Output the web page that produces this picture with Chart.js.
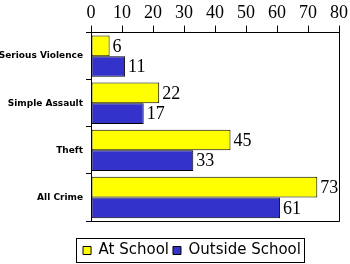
<!DOCTYPE html>
<html>
<head>
<meta charset="utf-8">
<script src="https://cdn.jsdelivr.net/npm/chart.js@4/dist/chart.umd.min.js"></script>
<style>
html,body{margin:0;padding:0;background:#fff;}
#wrap{width:350px;height:264px;position:relative;}
</style>
</head>
<body>
<div id="wrap"><canvas id="c" width="350" height="264"></canvas></div>
<script>
const categories = ["Serious Violence", "Simple Assault", "Theft", "All Crime"];
const seriesNames = ["At School", "Outside School"];
const atSchool = [6, 22, 45, 73];
const outsideSchool = [11, 17, 33, 61];
const xTicks = [0, 10, 20, 30, 40, 50, 60, 70, 80];

const LEGEND_SHIFT = 21;

const frame = {
  id: 'frame',
  afterLayout(chart) {
    const lg = chart.legend;
    if (lg) { lg.left += LEGEND_SHIFT; lg.right += LEGEND_SHIFT; }
  },
  afterDraw(chart) {
    const ctx = chart.ctx, a = chart.chartArea;
    ctx.save();
    ctx.strokeStyle = '#000';
    ctx.lineWidth = 1;
    ctx.beginPath();
    ctx.moveTo(a.right + 0.5, a.top);
    ctx.lineTo(a.right + 0.5, a.bottom + 0.5);
    ctx.lineTo(a.left, a.bottom + 0.5);
    ctx.stroke();
    // legend box
    const lg = chart.legend;
    if (lg && lg.legendHitBoxes && lg.legendHitBoxes.length) {
      let x0 = Infinity, x1 = -Infinity, y0 = Infinity, y1 = -Infinity;
      lg.legendHitBoxes.forEach(h => {
        x0 = Math.min(x0, h.left); x1 = Math.max(x1, h.left + h.width);
        y0 = Math.min(y0, h.top); y1 = Math.max(y1, h.top + h.height);
      });
      ctx.strokeRect(Math.round(x0 - 7) + 0.5, Math.round(y0 - 5) + 0.5, Math.round(x1 - x0 + 10), Math.round(y1 - y0 + 9));
    }
    // value labels
    ctx.fillStyle = '#000';
    ctx.font = '18px "Liberation Serif"';
    ctx.textBaseline = 'middle';
    ctx.textAlign = 'left';
    chart.data.datasets.forEach((ds, i) => {
      chart.getDatasetMeta(i).data.forEach((bar, j) => {
        ctx.fillText(String(ds.data[j]), bar.x + 3, bar.y + 1);
      });
    });
    ctx.restore();
  }
};

new Chart(document.getElementById('c'), {
  type: 'bar',
  data: {
    labels: categories,
    datasets: [
      { label: seriesNames[0], data: atSchool, backgroundColor: '#ffff00', borderColor: '#000', borderWidth: 1, borderSkipped: false },
      { label: seriesNames[1], data: outsideSchool, backgroundColor: '#3333cc', borderColor: '#000', borderWidth: 1, borderSkipped: false }
    ]
  },
  options: {
    indexAxis: 'y',
    responsive: false,
    animation: false,
    devicePixelRatio: 1,
    layout: { padding: { top: 0, right: 8, bottom: -4, left: 0 } },
    datasets: { bar: { categoryPercentage: 0.88, barPercentage: 1.0 } },
    scales: {
      x: {
        position: 'top',
        min: 0, max: 80,
        afterBuildTicks: (s) => { s.ticks = xTicks.map(v => ({ value: v })); },
        ticks: { color: '#000', font: { family: 'Liberation Serif', size: 18 }, padding: 2, maxRotation: 0 },
        grid: { drawOnChartArea: false, drawTicks: true, tickLength: 7, color: '#000' },
        border: { color: '#000', width: 1 }
      },
      y: {
        afterFit: (s) => { s.width = 91; },
        ticks: { color: '#000', font: { family: 'DejaVu Sans', size: 9, weight: 'bold' }, padding: 3 },
        grid: { drawOnChartArea: false, drawTicks: true, tickLength: 5, color: '#000', offset: true },
        border: { color: '#000', width: 1 }
      }
    },
    plugins: {
      legend: {
        position: 'bottom',
        title: { display: true, text: ' ', font: { size: 10 }, padding: 3 },
        labels: { color: '#000', font: { family: 'DejaVu Sans', size: 15 }, boxWidth: 8, boxHeight: 8, padding: 4 }
      },
      tooltip: { enabled: false }
    }
  },
  plugins: [frame]
});
</script>
</body>
</html>
